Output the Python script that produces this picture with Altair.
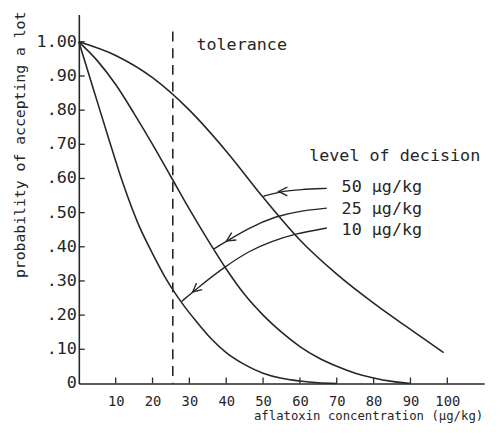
import altair as alt
import pandas as pd

# Operating characteristic curves (x = aflatoxin µg/kg, y = probability of accepting a lot)
x50 = [0, 10, 20, 30, 40, 50, 60, 70, 80, 90, 99]
y50 = [1.0, 0.96, 0.895, 0.80, 0.68, 0.545, 0.42, 0.32, 0.235, 0.158, 0.09]
x25 = [0, 5, 10, 15, 20, 25, 30, 35, 40, 45, 50, 55, 60, 65, 70, 75, 80, 85, 90]
y25 = [1.0, 0.945, 0.875, 0.79, 0.70, 0.605, 0.51, 0.42, 0.335, 0.26, 0.20, 0.15, 0.108, 0.075,
       0.05, 0.03, 0.016, 0.006, 0.0]
x10 = [0, 4, 8, 12, 16, 20, 24, 28, 32, 36, 40, 45, 50, 55, 60, 65, 70]
y10 = [1.0, 0.86, 0.72, 0.585, 0.47, 0.38, 0.30, 0.235, 0.18, 0.13, 0.09, 0.055, 0.03, 0.015,
       0.007, 0.002, 0.0]

# tolerance (dashed)
tol_x = [25.5, 25.5]
tol_y = [1.03, 0.0]

# leader lines from the labels to the curves
lead50_x = [67.3, 60.0, 54.9, 50.1]
lead50_y = [0.571, 0.568, 0.562, 0.548]
lead25_x = [67.3, 60.0, 53.7, 46.4, 36.7]
lead25_y = [0.513, 0.505, 0.49, 0.458, 0.394]
lead10_x = [67.3, 58.6, 52.0, 46.6, 39.6, 31.8, 27.9]
lead10_y = [0.455, 0.438, 0.415, 0.39, 0.342, 0.276, 0.240]
# arrowheads on the leader lines
head_x = [55.4, 41.1, 31.8]
head_y = [0.562, 0.424, 0.276]
head_angle = [0, 328, 320]

labels_text = ["50 µg/kg", "25 µg/kg", "10 µg/kg"]
labels_y = [0.576, 0.51, 0.45]

x_ticks = [10, 20, 30, 40, 50, 60, 70, 80, 90, 100]
y_ticks = [0.1, 0.2, 0.3, 0.4, 0.5, 0.6, 0.7, 0.8, 0.9, 1.0]
y_label_values = [0.0, 0.1, 0.2, 0.3, 0.4, 0.5, 0.6, 0.7, 0.8, 0.9, 1.0]
y_tick_labels = ["0", ".10", ".20", ".30", ".40", ".50", ".60", ".70", ".80", ".90", "1.00"]

INK = "#262626"
FONT = "DejaVu Sans Mono"

xs = alt.Scale(domain=[0, 110], nice=False, zero=False)
ys = alt.Scale(domain=[0, 1.08], nice=False, zero=False)

xaxis = alt.Axis(values=x_ticks, ticks=False, domain=True, domainColor=INK, domainWidth=1.6,
                 grid=False, labelFont=FONT, labelFontSize=14, labelColor=INK, labelPadding=11,
                 labelOverlap=False,
                 title="aflatoxin concentration (µg/kg)", titleFont=FONT, titleFontSize=12.5,
                 titleFontWeight="normal", titleColor=INK, titleX=294, titleY=33,
                 titleAlign="center", titleBaseline="middle")
yaxis = alt.Axis(labels=False, ticks=False, domain=True, domainColor=INK, domainWidth=1.6,
                 grid=False,
                 title="probability of accepting a lot", titleFont=FONT, titleFontSize=15,
                 titleFontWeight="normal", titleColor=INK, titleX=-60, titleY=132,
                 titleAlign="center", titleBaseline="middle", titleAngle=270)


def X(field="x"):
    return alt.X(f"{field}:Q", scale=xs, axis=xaxis)


def Y(field="y"):
    return alt.Y(f"{field}:Q", scale=ys, axis=yaxis)


curves = pd.concat([
    pd.DataFrame({"x": x50, "y": y50, "s": "50"}),
    pd.DataFrame({"x": x25, "y": y25, "s": "25"}),
    pd.DataFrame({"x": x10, "y": y10, "s": "10"}),
])

base_lines = alt.Chart(curves).mark_line(color=INK, strokeWidth=1.6, interpolate="monotone").encode(
    x=X(), y=Y(), detail="s:N")

tol = alt.Chart(pd.DataFrame({"x": tol_x, "y": tol_y})).mark_line(
    color=INK, strokeWidth=1.6, strokeDash=[10, 7]).encode(x=X(), y=Y())

leads = pd.concat([
    pd.DataFrame({"x": lead50_x, "y": lead50_y, "s": "50", "o": range(len(lead50_x))}),
    pd.DataFrame({"x": lead25_x, "y": lead25_y, "s": "25", "o": range(len(lead25_x))}),
    pd.DataFrame({"x": lead10_x, "y": lead10_y, "s": "10", "o": range(len(lead10_x))}),
])
lead = alt.Chart(leads).mark_line(color=INK, strokeWidth=1.4, interpolate="basis").encode(
    x=X(), y=Y(), detail="s:N", order="o:Q")

heads = alt.Chart(pd.DataFrame({"x": head_x, "y": head_y, "a": head_angle})).mark_point(
    shape="M 1 -1 L -1 0 L 1 1", filled=False, size=80, color=INK, strokeWidth=1.4, opacity=1).encode(
    x=X(), y=Y(), angle=alt.Angle("a:Q", scale=None))

xt = alt.Chart(pd.DataFrame({"x": x_ticks})).mark_rule(color=INK, strokeWidth=1.3).encode(
    x=X(), y=alt.value(375), y2=alt.value(369))
yt = alt.Chart(pd.DataFrame({"y": y_ticks})).mark_rule(color=INK, strokeWidth=1.3).encode(
    y=Y(), x=alt.value(0), x2=alt.value(6))
ytl = alt.Chart(pd.DataFrame({"y": y_label_values, "t": y_tick_labels})).mark_text(
    align="right", baseline="middle", font=FONT, fontSize=17, color=INK, dx=-2).encode(
    y=Y(), x=alt.value(0), text="t:N")

txt_labels = alt.Chart(pd.DataFrame({"t": labels_text, "y": labels_y, "x": [71.3] * 3})).mark_text(
    align="left", baseline="middle", font=FONT, fontSize=17, color=INK).encode(
    x=X(), y=Y(), text="t:N")

other_text = alt.Chart(pd.DataFrame({"t": ["tolerance", "level of decision"], "x": [31.9, 62.5],
                                     "y": [0.99, 0.666]})).mark_text(
    align="left", baseline="middle", font=FONT, fontSize=17, color=INK).encode(
    x=X(), y=Y(), text="t:N")

chart = alt.layer(base_lines, tol, lead, heads, xt, yt, ytl, txt_labels, other_text).properties(
    width=412, height=375, autosize="none",
    padding={"left": 72, "top": 3, "right": 10, "bottom": 60},
).configure(background="white", view=alt.ViewConfig(stroke=None))

chart.save("out.html", embed_options={"renderer": "svg", "actions": False})
